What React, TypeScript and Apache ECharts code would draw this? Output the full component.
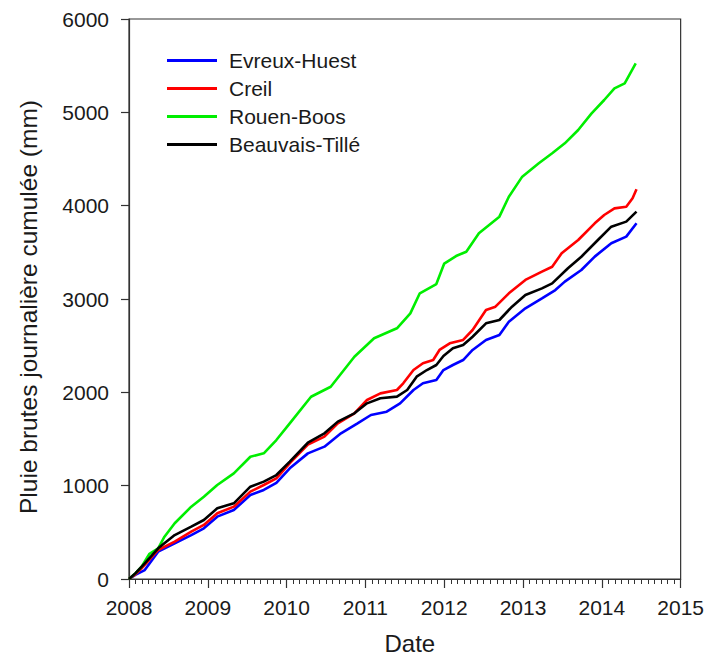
import React, { useEffect, useRef } from "react";
import * as echarts from "echarts";

const FONT = "'Liberation Sans', Arial, Helvetica, sans-serif";

const seriesNames = ["Evreux-Huest", "Creil", "Rouen-Boos", "Beauvais-Tillé"];
const seriesColors = ["#0000ff", "#ff0000", "#00ee00", "#000000"];
const yTitle = "Pluie brutes journalière cumulée (mm)";
const xTitle = "Date";

const yTicks = [0, 1000, 2000, 3000, 4000, 5000, 6000];
const xTicks = [2008, 2009, 2010, 2011, 2012, 2013, 2014, 2015];

const evreuxDates = [2008.0, 2008.08, 2008.2, 2008.37, 2008.58, 2008.79, 2008.95, 2009.12, 2009.33, 2009.54, 2009.71, 2009.87, 2010.04, 2010.27, 2010.48, 2010.69, 2010.9, 2011.07, 2011.27, 2011.44, 2011.61, 2011.73, 2011.9, 2011.99, 2012.11, 2012.24, 2012.36, 2012.53, 2012.7, 2012.82, 2013.03, 2013.24, 2013.41, 2013.53, 2013.74, 2013.91, 2014.12, 2014.31, 2014.44];
const evreuxValues = [0, 45, 96, 293, 382, 471, 543, 668, 739, 900, 954, 1030, 1186, 1346, 1418, 1561, 1668, 1757, 1793, 1882, 2025, 2097, 2132, 2239, 2293, 2346, 2454, 2561, 2614, 2757, 2900, 3007, 3096, 3186, 3311, 3454, 3597, 3668, 3811];

const creilDates = [2008.0, 2008.08, 2008.16, 2008.37, 2008.58, 2008.79, 2008.95, 2009.12, 2009.33, 2009.54, 2009.71, 2009.87, 2010.05, 2010.27, 2010.48, 2010.65, 2010.86, 2011.02, 2011.19, 2011.4, 2011.48, 2011.61, 2011.73, 2011.86, 2011.94, 2012.07, 2012.24, 2012.36, 2012.53, 2012.65, 2012.82, 2013.03, 2013.24, 2013.37, 2013.49, 2013.7, 2013.91, 2014.03, 2014.16, 2014.31, 2014.39, 2014.44];
const creilValues = [0, 50, 114, 311, 400, 507, 579, 704, 775, 936, 1007, 1079, 1250, 1440, 1525, 1668, 1775, 1918, 1989, 2025, 2097, 2239, 2311, 2346, 2454, 2525, 2561, 2668, 2882, 2918, 3061, 3204, 3293, 3346, 3489, 3632, 3811, 3900, 3971, 3989, 4079, 4175];

const rouenDates = [2008.0, 2008.08, 2008.16, 2008.26, 2008.37, 2008.45, 2008.58, 2008.79, 2008.95, 2009.12, 2009.33, 2009.54, 2009.71, 2009.87, 2010.04, 2010.31, 2010.56, 2010.86, 2011.11, 2011.4, 2011.57, 2011.69, 2011.9, 2012.0, 2012.15, 2012.28, 2012.44, 2012.7, 2012.82, 2012.99, 2013.2, 2013.37, 2013.53, 2013.7, 2013.87, 2014.03, 2014.16, 2014.29, 2014.43];
const rouenValues = [0, 60, 132, 270, 329, 453, 597, 775, 882, 1007, 1132, 1310, 1347, 1489, 1668, 1953, 2060, 2382, 2579, 2686, 2846, 3061, 3160, 3380, 3460, 3507, 3704, 3882, 4096, 4311, 4454, 4561, 4668, 4811, 4989, 5132, 5257, 5311, 5525];

const beauvaisDates = [2008.0, 2008.08, 2008.2, 2008.37, 2008.58, 2008.79, 2008.95, 2009.12, 2009.33, 2009.54, 2009.71, 2009.87, 2010.04, 2010.27, 2010.48, 2010.65, 2010.86, 2011.02, 2011.19, 2011.4, 2011.53, 2011.65, 2011.78, 2011.9, 2011.99, 2012.11, 2012.24, 2012.36, 2012.53, 2012.7, 2012.86, 2013.03, 2013.24, 2013.37, 2013.57, 2013.74, 2013.95, 2014.12, 2014.31, 2014.44];
const beauvaisValues = [0, 60, 168, 329, 471, 561, 632, 757, 811, 989, 1043, 1114, 1257, 1460, 1561, 1686, 1775, 1882, 1936, 1954, 2025, 2168, 2239, 2293, 2390, 2472, 2507, 2596, 2739, 2775, 2918, 3043, 3114, 3168, 3329, 3453, 3632, 3775, 3829, 3936];

const allDates = [evreuxDates, creilDates, rouenDates, beauvaisDates];
const allValues = [evreuxValues, creilValues, rouenValues, beauvaisValues];

export default function App() {
  const ref = useRef<HTMLDivElement>(null);

  useEffect(() => {
    if (!ref.current) return;
    const chart = echarts.init(ref.current, null, { renderer: "svg" });
    const axisColor = "#333";
    const textColor = "#1a1a1a";
    chart.setOption({
      animation: false,
      backgroundColor: "#ffffff",
      textStyle: { fontFamily: FONT },
      grid: {
        left: 129,
        top: 19,
        right: 20,
        bottom: 81,
        show: true,
        borderColor: axisColor,
        borderWidth: 1.2,
        backgroundColor: "transparent",
      },
      legend: {
        orient: "vertical",
        left: 162,
        top: 45,
        icon: "rect",
        itemWidth: 50,
        itemHeight: 3,
        itemGap: 7,
        data: seriesNames,
        textStyle: {
          fontFamily: FONT,
          fontSize: 21,
          color: textColor,
          padding: [0, 0, 0, 7],
        },
      },
      graphic: [
        {
          type: "text",
          x: 28,
          y: 307,
          rotation: Math.PI / 2,
          silent: true,
          style: {
            text: yTitle,
            fontFamily: FONT,
            fontSize: 24.5,
            fill: textColor,
            align: "center",
            verticalAlign: "middle",
          },
        },
      ],
      xAxis: {
        type: "value",
        min: xTicks[0],
        max: xTicks[xTicks.length - 1],
        interval: 1,
        name: xTitle,
        nameLocation: "middle",
        nameGap: 52,
        nameTextStyle: { fontFamily: FONT, fontSize: 24, color: textColor, padding: [0, 0, 0, 10] },
        axisLine: { show: true, lineStyle: { color: axisColor, width: 1.2 } },
        axisTick: { show: true, inside: false, length: 9, lineStyle: { color: axisColor, width: 1.2 } },
        minorTick: { show: true, splitNumber: 12, length: 5, lineStyle: { color: axisColor, width: 1 } },
        splitLine: { show: false },
        axisLabel: {
          margin: 18,
          fontFamily: FONT,
          fontSize: 21,
          color: textColor,
          formatter: (v: number) => String(v),
        },
      },
      yAxis: {
        type: "value",
        min: yTicks[0],
        max: yTicks[yTicks.length - 1],
        interval: 1000,
        axisLine: { show: true, lineStyle: { color: axisColor, width: 1.2 } },
        axisTick: { show: true, inside: false, length: 8, lineStyle: { color: axisColor, width: 1.2 } },
        splitLine: { show: false },
        axisLabel: {
          margin: 20,
          fontFamily: FONT,
          fontSize: 21,
          color: textColor,
          formatter: (v: number) => String(v),
        },
      },
      series: seriesNames.map((name, i) => ({
        name,
        type: "line",
        symbol: "none",
        showSymbol: false,
        smooth: false,
        color: seriesColors[i],
        lineStyle: { color: seriesColors[i], width: 2.6 },
        data: allDates[i].map((d, j) => [d, allValues[i][j]]),
        z: i === 3 ? 5 : 3,
      })),
    });
    return () => chart.dispose();
  }, []);

  return (
    <div
      ref={ref}
      style={{ position: "fixed", left: 0, top: 0, width: 707, height: 660, background: "#fff" }}
    />
  );
}
